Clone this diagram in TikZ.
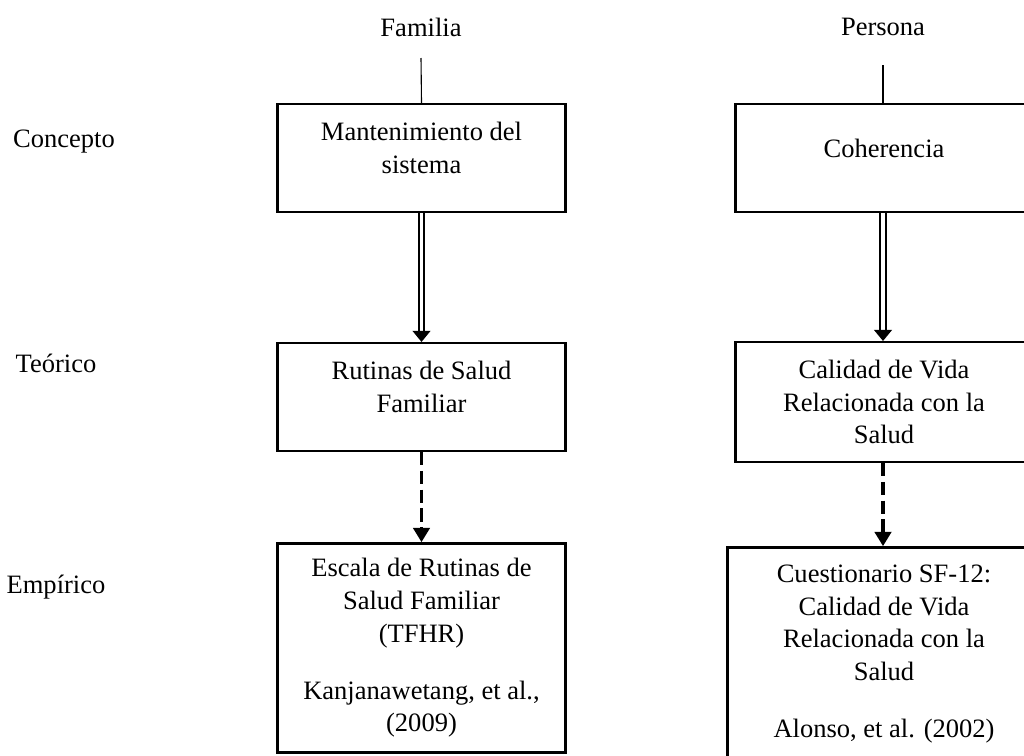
\documentclass[tikz,border=0pt]{standalone}
\usepackage{fontspec}
\setmainfont{Liberation Serif}
\usetikzlibrary{arrows.meta,positioning}
\tikzset{
	basic/.style  = {draw, line width=1.1pt, rectangle, align=center, inner sep=2pt,
		font={\fontsize{12pt}{14.8pt}\selectfont}},
	row label/.style = {font={\fontsize{12pt}{14.8pt}\selectfont}},
	left box/.style  = {basic, minimum width=130.3pt},
	right box/.style = {basic, minimum width=134.3pt},
	raised/.style = {text depth=9pt},
	strong/.style = {draw, line width=0.8pt, double, double distance=1.6pt,
		-{Triangle[width=8pt,length=5pt]}},
	weak/.style   = {draw, line width=1.4pt, dash pattern=on 6pt off 2.5pt,
		-{Triangle[width=7.5pt,length=6.5pt]}}
}

\begin{document}
\begin{tikzpicture}[x=0.015894cm, y=-0.015894cm]
\clip (0,0) rectangle (1024,755);

% row labels on the left
\node[row label] (concepto) at (64,142) {Concepto};
\node[row label] (teorico) at (56,363) {Teórico};
\node[row label] (empirico) at (56,587) {Empírico};

% column heads
\node[row label] (familia) at (421,27) {Familia};
\node[row label] (persona) at (883,27) {Persona};
\coordinate (famtop) at (421,58);
\coordinate (pertop) at (883,65);

% left column, Familia
\node[left box, raised, minimum height=48.7pt] (mant) at (421.5,158) {Mantenimiento del\\sistema};
\node[left box, raised, minimum height=48.7pt] (rutinas) at (421.5,397) {Rutinas de Salud\\Familiar};
\node[left box, minimum height=94.7pt] (escala) at (421.5,648) {Escala de Rutinas de\\Salud Familiar\\(TFHR)\\[11pt]Kanjanawetang, et al.,\\(2009)};

% right column, Persona (cut by the right edge)
\node[right box, raised, minimum height=48.7pt] (coher) at (884,158) {Coherencia};
\node[right box, minimum height=54.1pt] (calidad) at (884,402) {Calidad de Vida\\Relacionada con la\\Salud};
\node[basic, minimum width=141.5pt, minimum height=96.5pt] (cuest) at (884,654) {Cuestionario SF-12:\\Calidad de Vida\\Relacionada con la\\Salud\\[11pt]Alonso, et al. (2002)};

% connectors
\draw[line width=0.5pt] (famtop) -- (mant.north);
\draw[line width=0.5pt] (pertop) -- (pertop |- coher.north);
\draw[strong] (mant.south) -- (rutinas.north);
\draw[strong] (coher.south -| pertop) -- (pertop |- calidad.north);
\draw[weak] (rutinas.south) -- (escala.north);
\draw[weak] (calidad.south -| pertop) -- (pertop |- cuest.north);

\end{tikzpicture}
\end{document}
